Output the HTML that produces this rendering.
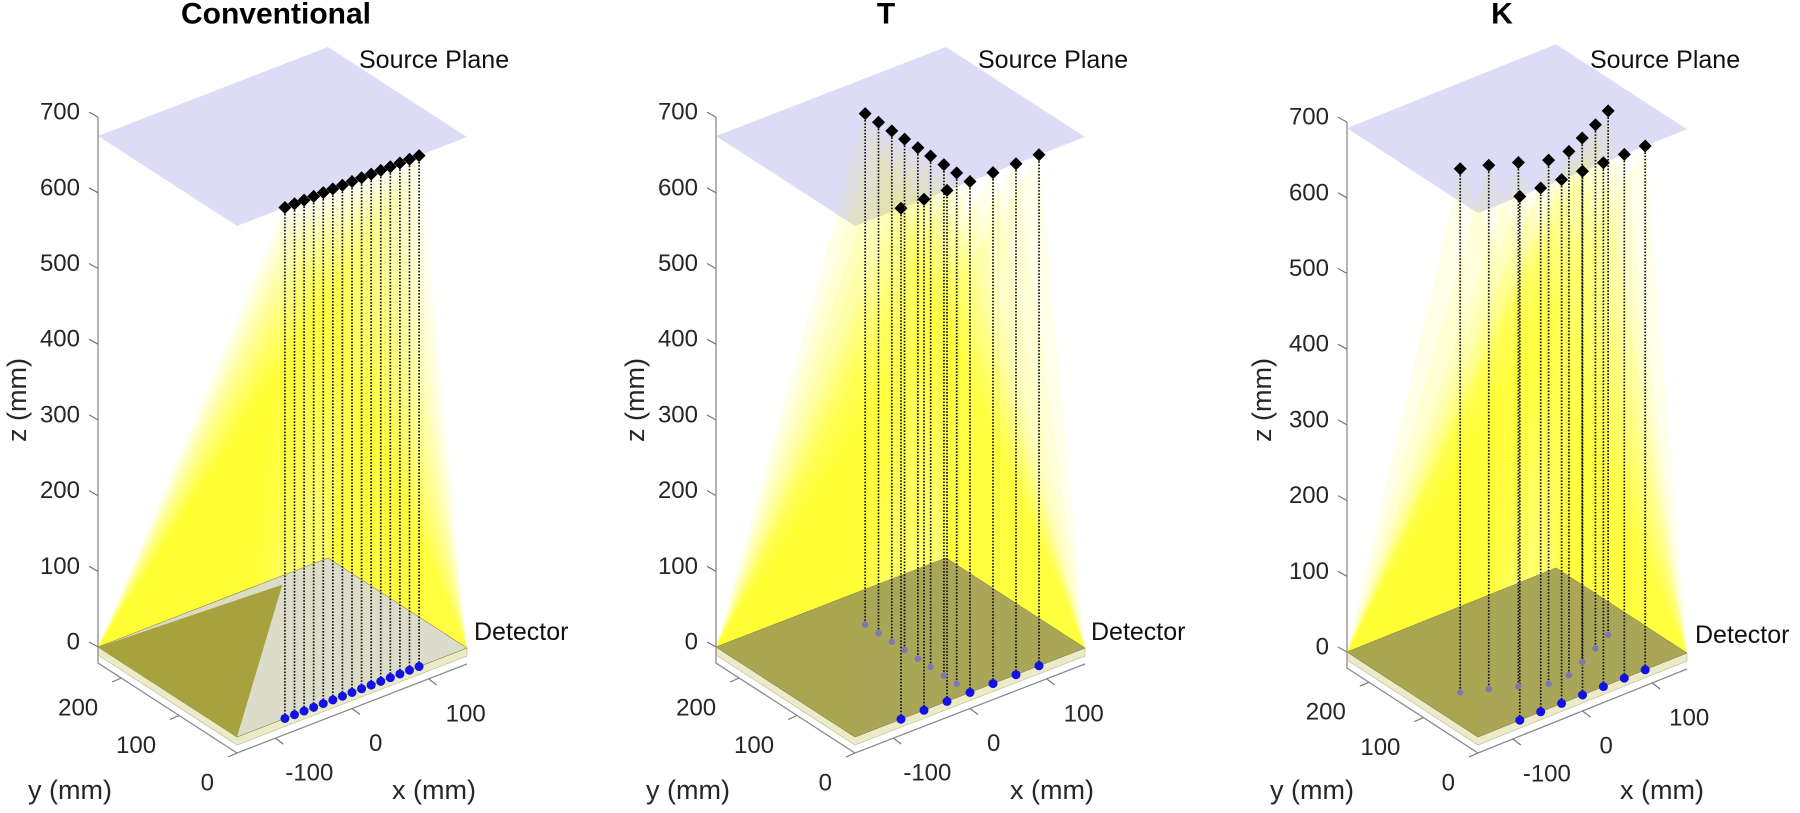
<!DOCTYPE html>
<html><head><meta charset="utf-8"><style>
html,body{margin:0;padding:0;background:#fff;}
svg{display:block;font-family:"Liberation Sans",Arial,sans-serif;}
</style></head><body>
<svg id="fig" width="1800" height="813" viewBox="0 0 1800 813"></svg>
<script>
// ---- data ----
const panelTitles = ["Conventional", "T", "K"];
const convX = [-87.5,-75,-62.5,-50,-37.5,-25,-12.5,0,12.5,25,37.5,50,62.5,75,87.5];
const convY = [0,0,0,0,0,0,0,0,0,0,0,0,0,0,0];
const tX = [-90,-60,-30,0,30,60,90,0,0,0,0,0,0,0,0];
const tY = [0,0,0,0,0,0,0,23,45,68,90,113,135,158,181];
const kX = [-90,-60,-30,0,30,60,90,-105,-75,-45,-15,15,45,75,105];
const kY = [0,0,0,0,0,0,0,90,76,60,43,44,58,72,87];
const zTicks = [0,100,200,300,400,500,600,700];
const yTicks = [0,100,200];
const xTicks = [-100,0,100];

// ---- projection params per panel ----
const panels = [
  {B:[237,737], ex:[230/300,-89/300], ey:[-139/240,-90/240], ez:0.757, zp:675, sx:convX, sy:convY,
   det:'#d9d9cf', olive:true, sp:[359,60], dl:[474,632], title:[276,14], zl:[17,400], yl:[70,790], xl:[434,790]},
  {B:[855,737], ex:[230/300,-89/300], ey:[-139/240,-90/240], ez:0.757, zp:675, sx:tX, sy:tY,
   det:'#a29e52', olive:false, sp:[978,60], dl:[1091,632], title:[886,14], zl:[635,400], yl:[688,790], xl:[1052,790]},
  {B:[1478,737], ex:[209/300,-84/300], ey:[-131/240,-85/240], ez:0.757, zp:692, sx:kX, sy:kY,
   det:'#a29e52', olive:false, sp:[1590,60], dl:[1695,635], title:[1502,14], zl:[1262,400], yl:[1312,790], xl:[1662,790]}
];
const XMIN=-150, XMAX=150, YMAX=240;
const NS='http://www.w3.org/2000/svg';
const svg=document.getElementById('fig');
function mk(tag,attrs,parent){const e=document.createElementNS(NS,tag);for(const k in attrs)e.setAttribute(k,attrs[k]);(parent||svg).appendChild(e);return e;}
function proj(p,x,y,z){return [p.B[0]+(x-XMIN)*p.ex[0]+y*p.ey[0], p.B[1]+(x-XMIN)*p.ex[1]+y*p.ey[1]-z*p.ez];}
function pts(a){return a.map(q=>q[0].toFixed(1)+','+q[1].toFixed(1)).join(' ');}

panels.forEach((p,pi)=>{
  const g=mk('g',{});
  
  
  const t=mk('text',{x:p.title[0],y:p.title[1],'text-anchor':'middle','dominant-baseline':'central','font-size':30,'font-weight':'bold',fill:'#000'},g);
  t.textContent=panelTitles[pi];
  
  
  const C00=proj(p,XMIN,0,0),C01=proj(p,XMIN,YMAX,0),C11=proj(p,XMAX,YMAX,0),C10=proj(p,XMAX,0,0);
  const pl=mk('polygon',{points:pts([proj(p,XMIN,0,p.zp),proj(p,XMIN,YMAX,p.zp),proj(p,XMAX,YMAX,p.zp),proj(p,XMAX,0,p.zp)]),fill:'#dddcf6'},g);
  
  
  const srcs=p.sx.map((x,i)=>proj(p,x,p.sy[i],p.zp));
  const faces=[[C01,C11,0.02],[C01,C00,0.075],[C10,C11,0.05],[C00,C10,0.03]];
  srcs.forEach(s=>{
    faces.forEach(f=>{
      const fp=mk('polygon',{points:pts([s,f[0],f[1]]),fill:'#ffff00','fill-opacity':f[2]},g);
      
      
    });
  });
  const th=8;
  const strip=mk('polygon',{points:pts([C01,C00,C10,[C10[0],C10[1]+th],[C00[0],C00[1]+th],[C01[0],C01[1]+th]]),fill:'#ecebc8',stroke:'#b9b690','stroke-width':0.6},g);
  
  
  const det=mk('polygon',{points:pts([C00,C01,C11,C10]),fill:p.det,'fill-opacity':0.92,stroke:'#8a8650','stroke-width':0.6},g);
  
  
  if(p.olive){
    const ol=mk('polygon',{points:pts([C01,C00,proj(p,79,225,0)]),fill:'#a7a23e'},g);
    
    
  }
  const off=16;
  const zTop=proj(p,XMIN,YMAX,700);
  const ax=mk('polyline',{points:pts([[zTop[0],zTop[1]],[C01[0],C01[1]+off],[C00[0],C00[1]+off],[C10[0],C10[1]+off]]),fill:'none',stroke:'#8c8c8c','stroke-width':1.3},g);
  
  
  zTicks.forEach(z=>{
    const q=proj(p,XMIN,YMAX,z);
    const tk=mk('line',{x1:q[0],y1:q[1],x2:q[0]-9,y2:q[1]-5,stroke:'#777','stroke-width':1.2},g);
    
    
    const lb=mk('text',{x:q[0]-18,y:q[1]-5,'text-anchor':'end','dominant-baseline':'central','font-size':24,fill:'#262626'},g);
    lb.textContent=z;
    
    
  });
  yTicks.forEach(y=>{
    const q=proj(p,XMIN,y,0);q[1]+=off;
    const tk=mk('line',{x1:q[0],y1:q[1],x2:q[0]-9,y2:q[1]+4,stroke:'#777','stroke-width':1.2},g);
    
    
    const lb=mk('text',{x:q[0]-23,y:q[1]+30,'text-anchor':'end','dominant-baseline':'central','font-size':24,fill:'#262626'},g);
    lb.textContent=y;
    
    
  });
  xTicks.forEach(x=>{
    const q=proj(p,x,0,0);q[1]+=off;
    const tk=mk('line',{x1:q[0],y1:q[1],x2:q[0]+8,y2:q[1]+6,stroke:'#777','stroke-width':1.2},g);
    
    
    const lb=mk('text',{x:q[0]+(x<0?10:17),y:q[1]+35,'text-anchor':'start','dominant-baseline':'central','font-size':24,fill:'#262626'},g);
    lb.textContent=x;
    
    
  });
  const zl=mk('text',{x:p.zl[0],y:p.zl[1],'text-anchor':'middle','dominant-baseline':'central','font-size':27,fill:'#262626',transform:`rotate(-90 ${p.zl[0]} ${p.zl[1]})`},g);
  zl.textContent='z (mm)';
  
  
  const yl=mk('text',{x:p.yl[0],y:p.yl[1],'text-anchor':'middle','dominant-baseline':'central','font-size':27,fill:'#262626'},g);
  yl.textContent='y (mm)';
  
  
  const xl=mk('text',{x:p.xl[0],y:p.xl[1],'text-anchor':'middle','dominant-baseline':'central','font-size':27,fill:'#262626'},g);
  xl.textContent='x (mm)';
  
  
  p.sx.forEach((x,i)=>{
    const s=srcs[i], d=proj(p,x,p.sy[i],0);
    const ln=mk('line',{x1:s[0],y1:s[1],x2:d[0],y2:d[1],stroke:'#111','stroke-width':1.7,'stroke-dasharray':'1.6 1.6'},g);
    
    
    const front=p.sy[i]<10;
    const dot=mk('circle',{cx:d[0],cy:d[1],r:front?4.5:3.2,fill:front?'#1212e6':'#7c78b4'},g);
    
    
  });
  srcs.forEach(s=>{
    const dm=mk('polygon',{points:pts([[s[0],s[1]-6.5],[s[0]+6.5,s[1]],[s[0],s[1]+6.5],[s[0]-6.5,s[1]]]),fill:'#000'},g);
    
    
  });
  const spt=mk('text',{x:p.sp[0],y:p.sp[1],'text-anchor':'start','dominant-baseline':'central','font-size':25,fill:'#111'},g);
  spt.textContent='Source Plane';
  
  
  const dtt=mk('text',{x:p.dl[0],y:p.dl[1],'text-anchor':'start','dominant-baseline':'central','font-size':25,fill:'#111'},g);
  dtt.textContent='Detector';
  
  
});
</script>
</body></html>
